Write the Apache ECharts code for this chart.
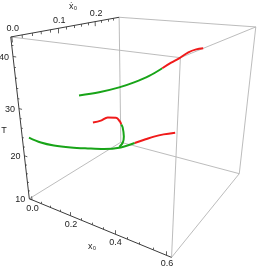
<!DOCTYPE html>
<html><head><meta charset="utf-8">
<script src="https://cdn.jsdelivr.net/npm/echarts@6/dist/echarts.min.js"></script>
<style>html,body{margin:0;padding:0;background:#fff}#c{width:257px;height:270px}</style>
</head><body><div id="c"></div>
<script>
// ---------------- DATA ----------------
// lower branch (x0-dot = 0): stable part
const lowerStableX0 = [0.016, 0.076, 0.140, 0.219, 0.294, 0.360, 0.426, 0.477];
const lowerStableXd = [0, 0, 0, 0, 0, 0, 0, 0];
const lowerStableT  = [24.27, 23.97, 24.17, 24.81, 25.61, 26.38, 27.55, 28.99];
// lower branch: unstable part
const lowerUnstableX0 = [0.477, 0.515, 0.543, 0.574, 0.610];
const lowerUnstableXd = [0, 0, 0, 0, 0];
const lowerUnstableT  = [28.99, 30.10, 30.90, 31.64, 32.35];
// folded branch: unstable part
const foldUnstableX0 = [0.320, 0.352, 0.379, 0.410, 0.424, 0.429];
const foldUnstableXd = [0, 0, 0, 0, 0, 0];
const foldUnstableT  = [30.74, 31.44, 32.28, 32.58, 32.08, 31.62];
// folded branch: stable part
const foldStableX0 = [0.429, 0.434, 0.438, 0.434, 0.421];
const foldStableXd = [0, 0, 0, 0, 0];
const foldStableT  = [31.62, 31.17, 29.63, 28.53, 27.55];
// upper branch: stable part
const upperStableX0 = [0.110, 0.207, 0.296, 0.358, 0.417, 0.465];
const upperStableXd = [0.08, 0.08, 0.08, 0.08, 0.08, 0.08];
const upperStableT  = [31.07, 32.55, 34.25, 35.69, 37.30, 38.98];
// upper branch: unstable part
const upperUnstableX0 = [0.465, 0.496, 0.523, 0.553, 0.578, 0.600];
const upperUnstableXd = [0.08, 0.08, 0.08, 0.08, 0.08, 0.08];
const upperUnstableT  = [38.98, 40.12, 41.02, 42.16, 42.76, 43.06];
// axis ranges and tick labels
const x0Range = [-0.015, 0.618];
const xdRange = [-0.002, 0.279];
const tRange  = [10, 43.5];
const x0Ticks = [0.0, 0.2, 0.4, 0.6];
const x0TickLabels = ['0.0', '0.2', '0.4', '0.6'];
const xdTicks = [0.0, 0.1, 0.2];
const xdTickLabels = ['0.0', '0.1', '0.2'];
const tTicks = [10, 20, 30, 40];
const tTickLabels = ['10', '20', '30', '40'];

// ---------------- LAYOUT (view calibration) ----------------
// screen positions of the 8 bounding-box corners [u,v,w, px,py]
const view = [[0,0,1,11,37],[0,0,0,29,198],[1,0,0,172,258],[1,0,1,180,58],
              [0,1,1,119,17],[0,1,0,121,143],[1,1,0,239,173],[1,1,1,256,27]];
const W = 257, H = 270;
const GREEN = '#18a418', RED = '#f01a1a', BOX = '#b4b4b4', AXIS = '#3a3a3a';
const FONT = '9px "Liberation Sans", Arial, sans-serif';

function solve(A,b){const n=b.length;for(let i=0;i<n;i++){let p=i;for(let r=i+1;r<n;r++)if(Math.abs(A[r][i])>Math.abs(A[p][i]))p=r;[A[i],A[p]]=[A[p],A[i]];[b[i],b[p]]=[b[p],b[i]];for(let r=0;r<n;r++){if(r===i)continue;const f=A[r][i]/A[i][i];for(let c=i;c<n;c++)A[r][c]-=f*A[i][c];b[r]-=f*b[i];}}return b.map((v,i)=>v/A[i][i]);}
const M = (function(){
  const rows=[],rhs=[];
  view.forEach(([u,v,w,x,y])=>{rows.push([u,v,w,1,0,0,0,0,-x*u,-x*v,-x*w]);rhs.push(x);rows.push([0,0,0,0,u,v,w,1,-y*u,-y*v,-y*w]);rhs.push(y);});
  const N=11,A=[],b=[];for(let i=0;i<N;i++){A.push(new Array(N).fill(0));b.push(0);}
  rows.forEach((r,k)=>{for(let i=0;i<N;i++){b[i]+=r[i]*rhs[k];for(let j=0;j<N;j++)A[i][j]+=r[i]*r[j];}});
  const m=solve(A,b);return [[m[0],m[1],m[2],m[3]],[m[4],m[5],m[6],m[7]],[m[8],m[9],m[10],1]];
})();
function projN(u,v,w){const p=[u,v,w,1];const d=M[2].reduce((s,a,i)=>s+a*p[i],0);
  return [M[0].reduce((s,a,i)=>s+a*p[i],0)/d, M[1].reduce((s,a,i)=>s+a*p[i],0)/d];}
const nx=x=>(x-x0Range[0])/(x0Range[1]-x0Range[0]);
const nv=x=>(x-xdRange[0])/(xdRange[1]-xdRange[0]);
const nw=x=>(x-tRange[0])/(tRange[1]-tRange[0]);
const P=(x0,xd,T)=>projN(nx(x0),nv(xd),nw(T));

function curve(xs,ds,ts,color){
  return {type:'line',data:xs.map((x,i)=>P(x,ds[i],ts[i])),showSymbol:false,smooth:0.35,
    lineStyle:{color:color,width:2},z:5,silent:true,animation:false};
}
// box edges
const C = view.map(c=>projN(c[0],c[1],c[2]));
const boxEdges=[[0,3],[3,2],[3,7],[4,7],[2,6],[6,7],[5,6],[1,5],[4,5]];
const axisEdges=[[1,2],[0,1],[0,4]];
const seg=(a,b)=>({coords:[a,b]});
const boxData=boxEdges.map(([a,b])=>seg(C[a],C[b]));
const axisData=axisEdges.map(([a,b])=>seg(C[a],C[b]));
// ticks
const tickData=[];
function range(a,b,s){const r=[];for(let v=a;v<=b+1e-9;v+=s)r.push(+v.toFixed(6));return r;}
range(0,0.6,0.05).forEach(x=>{const L=x0Ticks.some(t=>Math.abs(t-x)<1e-6)?0.025:0.013;
  tickData.push(seg(P(x,xdRange[0],tRange[0]),projN(nx(x),0,L)));});
range(10,42,2).forEach(t=>{const L=tTicks.some(s=>Math.abs(s-t)<1e-6)?0.025:0.013;
  tickData.push(seg(P(x0Range[0],xdRange[0],t),projN(L,0,nw(t))));});
range(0,0.26,0.02).forEach(d=>{const L=xdTicks.some(s=>Math.abs(s-d)<1e-6)?0.03:0.016;
  tickData.push(seg(P(x0Range[0],d,tRange[1]),projN(0,nv(d),1-L)));});

// labels
const graphic=[];
function txt(x,y,s,align,va){graphic.push({type:'text',x:x,y:y,silent:true,style:{text:s,font:FONT,fill:'#222',align:align,verticalAlign:va}});}
tTicks.forEach((t,i)=>{const p=P(x0Range[0],xdRange[0],t);txt(p[0]-4,p[1]+1,tTickLabels[i],'right','middle');});
x0Ticks.forEach((x,i)=>{const p=P(x,xdRange[0],tRange[0]);txt(p[0]+0.5,p[1]+8.5,x0TickLabels[i],'center','middle');});
xdTicks.forEach((d,i)=>{const p=P(x0Range[0],d,tRange[1]);txt(p[0]+1,p[1]-8,xdTickLabels[i],'center','middle');});
txt(92,247,'x\u2080','center','middle');
txt(73,7,'\u1E8B\u2080','center','middle');
txt(4,131,'T','center','middle');

const chart=echarts.init(document.getElementById('c'),null,{renderer:'canvas'});
chart.setOption({
  animation:false,
  grid:{left:0,right:0,top:0,bottom:0},
  xAxis:{type:'value',min:0,max:W,show:false},
  yAxis:{type:'value',min:0,max:H,inverse:true,show:false},
  graphic:graphic,
  series:[
    {type:'lines',coordinateSystem:'cartesian2d',data:boxData,lineStyle:{color:BOX,width:0.9,opacity:1},z:1,silent:true,animation:false},
    {type:'lines',coordinateSystem:'cartesian2d',data:axisData,lineStyle:{color:AXIS,width:1,opacity:1},z:2,silent:true,animation:false},
    {type:'lines',coordinateSystem:'cartesian2d',data:tickData,lineStyle:{color:AXIS,width:0.8,opacity:1},z:2,silent:true,animation:false},
    curve(lowerStableX0,lowerStableXd,lowerStableT,GREEN),
    curve(lowerUnstableX0,lowerUnstableXd,lowerUnstableT,RED),
    curve(foldUnstableX0,foldUnstableXd,foldUnstableT,RED),
    curve(foldStableX0,foldStableXd,foldStableT,GREEN),
    curve(upperStableX0,upperStableXd,upperStableT,GREEN),
    curve(upperUnstableX0,upperUnstableXd,upperUnstableT,RED)
  ]
});
</script></body></html>
